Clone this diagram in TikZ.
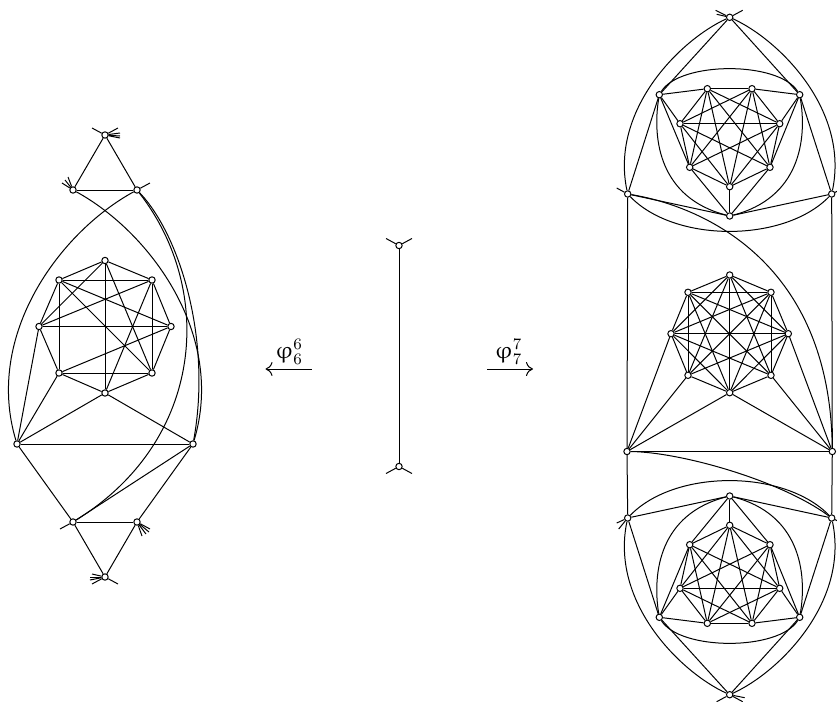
\documentclass[tikz,border=0pt]{standalone}
\usepackage{amsmath}
\usepackage{upgreek}
\usetikzlibrary{arrows.meta}
\begin{document}
\begin{tikzpicture}[x=0.5pt,y=-0.5pt,line width=0.5pt,
      v/.style={circle,draw,fill=white,inner sep=0pt,minimum size=3.2pt,line width=0.5pt},
      map/.style={-{Computer Modern Rightarrow[length=3.5pt,width=7pt]}}]
    \useasboundingbox (0,0) rectangle (837,702);
    % left graph
    \foreach \n/\x/\y in {t/105/135,tl/73/190,tr/137/190,bl/73/522,br/137/522,b/105/577,
        L/17/444,R/193/444,o1/105/260.5,o2/152/280,o3/171/326.5,o4/152/373,
        o5/105/393,o6/59/373,o7/39/326.5,o8/59/280}
      \node[v] (\n) at (\x,\y) {};
    \foreach \i/\j in {t/tl,t/tr,tl/tr,b/bl,b/br,bl/br,bl/L,bl/R,br/R,L/R,L/o7,L/o6,L/o5,R/o5,
        o1/o2,o2/o3,o3/o4,o4/o5,o5/o6,o6/o7,o7/o8,o8/o1,o8/o2,o7/o3,o6/o4,o8/o6,o2/o4,o1/o5,
        o8/o3,o8/o4,o2/o7,o2/o5,o6/o3,o1/o7,o1/o4}
      \draw (\i) -- (\j);
    \draw (tr) .. controls (60,232) and (-16,335) .. (L);
    \draw (tl) .. controls (150,232) and (226,335) .. (R);
    \draw (tr) .. controls (180,235) and (212,340) .. (R);
    \draw (tr) .. controls (215,290) and (205,440) .. (bl);
    % loose ends, left graph
    \foreach \n/\x/\y in {t/-13/-7,t/13/-7,t/15/-2,t/15/1,t/15/3,tl/-11/-7,tl/-8/-10,tl/-5/-13,tr/13/-7,
        bl/-13/7,br/13/7,br/12/10,br/9/12,br/5/14,b/13/7,b/-13/7,b/-15/3,b/-15/0,b/-13/-3}
      \draw (\n) -- ++(\x,\y);
    % middle
    \node[v] (m1) at (399,245.5) {};
    \node[v] (m2) at (399,466.5) {};
    \draw (m1) -- (m2);
    \foreach \n/\x/\y in {m1/-13/-7,m1/13/-7,m2/-13/7,m2/13/7}
      \draw (\n) -- ++(\x,\y);
    \coordinate (fa) at (311.5,369);
    \coordinate (ta) at (265.5,369);
    \coordinate (fb) at (487,369);
    \coordinate (tb) at (533,369);
    \draw[map] (fa) -- (ta);
    \draw[map] (fb) -- (tb);
    \node[font=\large] (la) at (289,352) {$\upvarphi_6^6$};
    \node[font=\large] (lb) at (508.5,352) {$\upvarphi_7^7$};
    % right graph, top and bottom parts are mirror images
    \foreach \g/\m in {a/1,b/-1}{
      \begin{scope}[shift={(0,356)},yscale=\m,shift={(0,-356)}]
        \foreach \n/\x/\y in {t/729.7/17.3,l/627.7/194,r/831.7/194,u/659.3/94.7,w/799.7/94.7,z/729.7/216,
            1/707.3/88.7,2/752/88.7,3/779.7/123.7,4/770/167.3,5/729.7/186.7,6/689.7/167.3,7/680/123.7}
          \node[v] (\g\n) at (\x,\y) {};
        \foreach \i/\j in {1/2,1/3,1/4,1/5,1/6,1/7,2/3,2/4,2/5,2/6,2/7,3/4,3/5,3/6,3/7,4/5,4/7,5/6,5/7,6/7,
            t/u,t/w,l/u,r/w,l/z,r/z,u/1,u/7,u/6,w/2,w/3,w/4,z/6,z/5,z/4}
          \draw (\g\i) -- (\g\j);
        \draw (\g t) .. controls (680,40) and (610,110) .. (\g l);
        \draw (\g t) .. controls (779.4,40) and (849.4,110) .. (\g r);
        \draw (\g u) .. controls (680,61) and (779,61) .. (\g w);
        \draw (\g u) .. controls (652,140) and (660,198) .. (\g z);
        \draw (\g w) .. controls (807.4,140) and (799.4,198) .. (\g z);
        \draw (\g l) .. controls (675,243) and (784,243) .. (\g r);
      \end{scope}}
    \foreach \n/\x/\y in {U/627/451.5,V/832.3/451.5,c1/729.7/275,c2/771/292.3,c3/788.3/333.7,c4/771/375.3,
        c5/729.7/392.7,c6/688/375.3,c7/671/333.7,c8/688/292.3}
      \node[v] (\n) at (\x,\y) {};
    \foreach \i/\j in {1/2,1/3,1/4,1/5,1/6,1/7,1/8,2/3,2/4,2/5,2/6,2/7,2/8,3/4,3/5,3/6,3/7,3/8,
        4/5,4/7,4/8,5/6,5/7,5/8,6/7,6/8,7/8}
      \draw (c\i) -- (c\j);
    \foreach \i/\j in {U/V,U/c7,U/c6,U/c5,V/c3,V/c4,V/c5,al/U,ar/V,bl/U,br/V}
      \draw (\i) -- (\j);
    \draw (al) .. controls (694,205) and (830,255) .. (V);
    \draw (U) .. controls (680,452) and (780,480) .. (br);
    % loose ends, right graph
    \foreach \n/\x/\y in {at/13/-7,at/-14/-7,at/-13/-3,al/-11/-6,ar/6/-3,br/6/3,bl/-11/5,bl/-9/11,bt/-13/7,bt/13/7,bt/15/3}
      \draw (\n) -- ++(\x,\y);
  \end{tikzpicture}
\end{document}
